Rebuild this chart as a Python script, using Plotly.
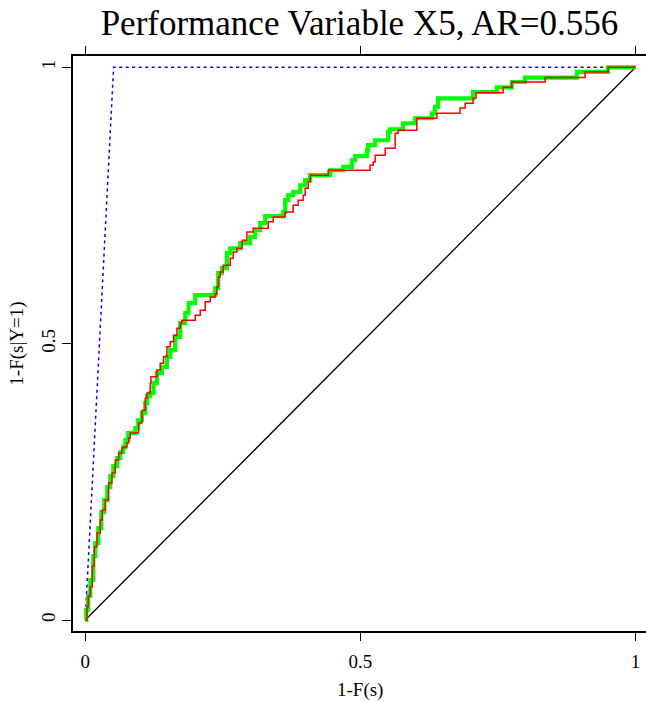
import plotly.graph_objects as go

# ---- data ----
perfect_x = [0.0, 0.0515, 1.0]
perfect_y = [0.0, 1.0, 1.0]

random_x = [0.0, 1.0]
random_y = [0.0, 1.0]

green_x = [0.0, 0.0018, 0.0054, 0.0091, 0.0145, 0.0182, 0.0236, 0.0291, 0.0345, 0.0400,
           0.0454, 0.0509, 0.0581, 0.0636, 0.0690, 0.0727, 0.0781, 0.0908, 0.0963, 0.1030,
           0.1090, 0.1126, 0.1181, 0.1241, 0.1302, 0.1393, 0.1484, 0.1544, 0.1635, 0.1726,
           0.1817, 0.1877, 0.1998, 0.2361, 0.2416, 0.2483, 0.2574, 0.2634, 0.2816, 0.2997,
           0.3088, 0.3179, 0.3270, 0.3597, 0.3633, 0.3688, 0.3778, 0.3906, 0.3996, 0.4087,
           0.4450, 0.4687, 0.4845, 0.4905, 0.5117, 0.5141, 0.5268, 0.5504, 0.5540, 0.5777,
           0.5995, 0.6298, 0.6358, 0.6412, 0.7048, 0.7479, 0.7751, 0.7993, 0.8932, 0.9500,
           1.0]
green_y = [0.0, 0.0181, 0.0434, 0.0723, 0.1157, 0.1392, 0.1664, 0.1953, 0.2170, 0.2405,
           0.2604, 0.2785, 0.2929, 0.3038, 0.3128, 0.3255, 0.3382, 0.3472, 0.3617, 0.3743,
           0.3924, 0.4051, 0.4105, 0.4286, 0.4467, 0.4580, 0.4761, 0.4882, 0.5123, 0.5371,
           0.5552, 0.5732, 0.5877, 0.6004, 0.6275, 0.6365, 0.6637, 0.6722, 0.6817, 0.6931,
           0.7052, 0.7179, 0.7306, 0.7383, 0.7595, 0.7685, 0.7745, 0.7866, 0.7957, 0.8047,
           0.8137, 0.8197, 0.8318, 0.8391, 0.8499, 0.8590, 0.8680, 0.8830, 0.8879, 0.8987,
           0.9078, 0.9168, 0.9282, 0.9439, 0.9553, 0.9638, 0.9734, 0.9814, 0.9915, 1.0,
           1.0]

red_x = [0.0, 0.0031, 0.0054, 0.0091, 0.0127, 0.0163, 0.0213, 0.0272, 0.0309, 0.0363,
         0.0423, 0.0485, 0.0545, 0.0605, 0.0667, 0.0696, 0.0757, 0.0787, 0.0817, 0.0968,
         0.1030, 0.1090, 0.1121, 0.1181, 0.1193, 0.1302, 0.1362, 0.1422, 0.1484, 0.1544,
         0.1604, 0.1666, 0.1726, 0.1757, 0.1998, 0.2089, 0.2180, 0.2271, 0.2361, 0.2392,
         0.2421, 0.2452, 0.2507, 0.2634, 0.2688, 0.2756, 0.2852, 0.2937, 0.3052, 0.3324,
         0.3415, 0.3633, 0.3778, 0.3869, 0.3960, 0.3996, 0.4051, 0.4087, 0.4414, 0.5177,
         0.5232, 0.5268, 0.5450, 0.5631, 0.5686, 0.6025, 0.6389, 0.6812, 0.6903, 0.7048,
         0.7102, 0.7593, 0.7751, 0.8356, 0.9083, 0.9500, 1.0]
red_y = [0.0, 0.0241, 0.0434, 0.0602, 0.0976, 0.1326, 0.1573, 0.1808, 0.1989, 0.2170,
         0.2477, 0.2658, 0.2893, 0.3020, 0.3110, 0.3130, 0.3201, 0.3291, 0.3382, 0.3562,
         0.3797, 0.4014, 0.4105, 0.4286, 0.4400, 0.4521, 0.4647, 0.4761, 0.4942, 0.5033,
         0.5154, 0.5280, 0.5371, 0.5425, 0.5515, 0.5606, 0.5756, 0.5846, 0.5895, 0.6027,
         0.6208, 0.6298, 0.6420, 0.6546, 0.6660, 0.6727, 0.6872, 0.7022, 0.7089, 0.7203,
         0.7293, 0.7383, 0.7505, 0.7595, 0.7685, 0.7812, 0.7926, 0.8047, 0.8137, 0.8228,
         0.8288, 0.8409, 0.8535, 0.8807, 0.8861, 0.9078, 0.9168, 0.9264, 0.9349, 0.9445,
         0.9539, 0.9638, 0.9734, 0.9814, 0.9915, 1.0, 1.0]

tick_vals = [0, 0.5, 1]
tick_text = ["0", "0.5", "1"]

title_text = "Performance Variable X5, AR=0.556"
x_title = "1-F(s)"
y_title = "1-F(s|Y=1)"

SERIF = "Liberation Serif, Times New Roman, serif"

fig = go.Figure()
fig.add_trace(go.Scatter(x=perfect_x, y=perfect_y, mode="lines",
                         line=dict(color="#0000FF", width=1.5, dash="3px,3.5px"),
                         showlegend=False, hoverinfo="skip"))
fig.add_trace(go.Scatter(x=random_x, y=random_y, mode="lines",
                         line=dict(color="black", width=1.3),
                         showlegend=False, hoverinfo="skip"))
fig.add_trace(go.Scatter(x=green_x, y=green_y, mode="lines",
                         line=dict(color="#00FF00", width=4.2, shape="hv"),
                         showlegend=False))
fig.add_trace(go.Scatter(x=red_x, y=red_y, mode="lines",
                         line=dict(color="#FF0000", width=1.5, shape="hv"),
                         showlegend=False))

fig.update_layout(
    width=646, height=702,
    margin=dict(l=73, r=0, t=56, b=71),
    paper_bgcolor="white", plot_bgcolor="white",
    font=dict(family=SERIF, color="black", size=19),
    title=dict(text=title_text, x=0.5, xref="paper", xanchor="center",
               y=1 - 23 / 702, yref="container", yanchor="middle",
               font=dict(family=SERIF, size=35, color="black")),
    xaxis=dict(range=[-0.0223, 1.019], tickvals=tick_vals, ticktext=tick_text,
               ticks="outside", ticklen=8, tickwidth=1.3, tickcolor="black",
               showline=True, linecolor="black", linewidth=1.5, mirror="ticks",
               showgrid=False, zeroline=False, ticklabelstandoff=4,
               tickfont=dict(family=SERIF, size=19)),
    yaxis=dict(range=[-0.0199, 1.0204], tickvals=tick_vals, ticktext=tick_text,
               ticks="outside", ticklen=9, tickwidth=1.3, tickcolor="black",
               showline=True, linecolor="black", linewidth=1.5, mirror=False,
               showgrid=False, zeroline=False, tickangle=-90,
               tickfont=dict(family=SERIF, size=19)),
    annotations=[
        dict(text=x_title, x=0.5, xref="x", y=(631 - 690) / 575, yref="paper",
             xanchor="center", yanchor="middle", showarrow=False,
             font=dict(family=SERIF, size=19)),
        dict(text=y_title, x=(17 - 73) / 573, xref="paper", y=0.5, yref="y",
             xanchor="center", yanchor="middle", showarrow=False, textangle=-90,
             font=dict(family=SERIF, size=19)),
    ],
)

fig.write_html("out.html")
